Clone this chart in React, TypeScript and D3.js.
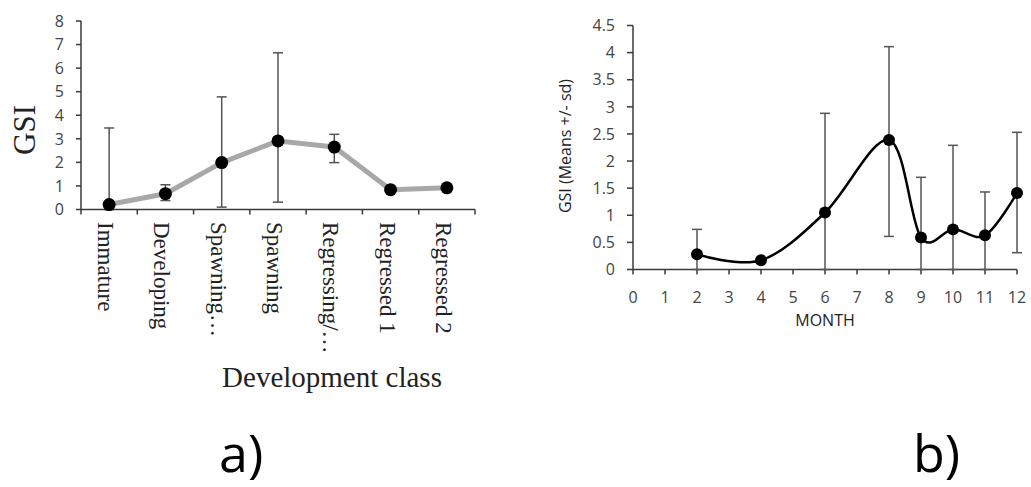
import React from 'react';
import * as d3 from 'd3';

// panel a) GSI by development class
const classes = ['Immature', 'Developing', 'Spawning…', 'Spawning', 'Regressing/…', 'Regressed 1', 'Regressed 2'];
const classMeans = [0.21, 0.67, 1.99, 2.91, 2.65, 0.84, 0.92];
const classUpper = [3.46, 1.05, 4.78, 6.65, 3.19, null, null];
const classLower = [0, 0.38, 0.1, 0.31, 1.99, null, null];
const classYTicks = [0, 1, 2, 3, 4, 5, 6, 7, 8];

// panel b) GSI by month
const months = [2, 4, 6, 8, 9, 10, 11, 12];
const monthMeans = [0.28, 0.17, 1.05, 2.39, 0.59, 0.74, 0.63, 1.41];
const monthUpper = [0.74, null, 2.88, 4.11, 1.7, 2.29, 1.43, 2.53];
const monthLower = [0, null, 0, 0.61, 0, 0, 0, 0.31];
const monthTicks = [0, 1, 2, 3, 4, 5, 6, 7, 8, 9, 10, 11, 12];
const monthYTicks = [0, 0.5, 1, 1.5, 2, 2.5, 3, 3.5, 4, 4.5];

const SANS = '"Open Sans", sans-serif';
const SERIF = '"Liberation Serif", "Times New Roman", serif';
const AXIS = '#3a3a3a';
const ERR = '#555';

const PanelA: React.FC = () => {
  const x = d3.scaleBand<string>().domain(classes).range([81, 475]);
  const y = d3.scaleLinear().domain([0, 8]).range([209.5, 21]);
  const cx = (c: string) => (x(c) as number) + x.bandwidth() / 2;
  const pts = classes.map((c, i) => [cx(c), y(classMeans[i])] as [number, number]);
  const line = d3.line();
  const boundaries = d3.range(classes.length + 1).map(i => x.range()[0] + x.step() * i);

  return (
    <g>
      {/* y axis */}
      <line x1={x.range()[0]} x2={x.range()[0]} y1={y(0)} y2={y(8)} stroke={AXIS} strokeWidth={1.5} />
      {classYTicks.map(t => (
        <g key={t}>
          <line x1={x.range()[0] - 5} x2={x.range()[0]} y1={y(t)} y2={y(t)} stroke={AXIS} strokeWidth={1.5} />
          <text x={64} y={y(t)} dy="0.36em" textAnchor="end" fontFamily={SANS} fontSize={16} fill="#444">{t}</text>
        </g>
      ))}
      {/* x axis */}
      <line x1={x.range()[0]} x2={x.range()[1]} y1={y(0)} y2={y(0)} stroke={AXIS} strokeWidth={1.5} />
      {boundaries.map((b, i) => (
        <line key={i} x1={b} x2={b} y1={y(0)} y2={y(0) + 5} stroke={AXIS} strokeWidth={1.5} />
      ))}
      {classes.map(c => (
        <text key={c} transform={`translate(${cx(c) - 11},222) rotate(90)`} fontFamily={SERIF} fontSize={23} fill="#222">{c}</text>
      ))}
      {/* error bars */}
      {classes.map((c, i) => classUpper[i] == null ? null : (
        <g key={c} stroke={ERR} strokeWidth={1.5}>
          <line x1={cx(c)} x2={cx(c)} y1={y(classUpper[i] as number)} y2={y(classLower[i] as number)} />
          <line x1={cx(c) - 5} x2={cx(c) + 5} y1={y(classUpper[i] as number)} y2={y(classUpper[i] as number)} />
          <line x1={cx(c) - 5} x2={cx(c) + 5} y1={y(classLower[i] as number)} y2={y(classLower[i] as number)} />
        </g>
      ))}
      <path d={line(pts) as string} fill="none" stroke="#a8a8a8" strokeWidth={5} strokeLinejoin="round" />
      {pts.map((p, i) => <circle key={i} cx={p[0]} cy={p[1]} r={6.5} fill="#000" />)}
      <text transform="translate(35,130) rotate(-90)" textAnchor="middle" fontFamily={SERIF} fontSize={31} fill="#222">GSI</text>
      <text x={332} y={387} textAnchor="middle" fontFamily={SERIF} fontSize={29} fill="#222">Development class</text>
      <text x={219} y={472} fontFamily={SANS} fontSize={52} fill="#000">a)</text>
    </g>
  );
};

const PanelB: React.FC = () => {
  const x = d3.scaleLinear().domain([0, 12]).range([633, 1017]);
  const y = d3.scaleLinear().domain([0, 4.5]).range([269.5, 25.5]);
  const pts = months.map((m, i) => [x(m), y(monthMeans[i])] as [number, number]);
  const line = d3.line().curve(d3.curveCardinal.tension(0));

  return (
    <g>
      <line x1={x(0)} x2={x(0)} y1={y(0)} y2={y(4.5)} stroke={AXIS} strokeWidth={1.5} />
      {monthYTicks.map(t => (
        <g key={t}>
          <line x1={x(0) - 6} x2={x(0)} y1={y(t)} y2={y(t)} stroke={AXIS} strokeWidth={1.5} />
          <text x={615} y={y(t)} dy="0.36em" textAnchor="end" fontFamily={SANS} fontSize={16} fill="#444">{t}</text>
        </g>
      ))}
      <line x1={x(0)} x2={x(12)} y1={y(0)} y2={y(0)} stroke={AXIS} strokeWidth={1.5} />
      {monthTicks.map(t => (
        <g key={t}>
          <line x1={x(t)} x2={x(t)} y1={y(0)} y2={y(0) + 5} stroke={AXIS} strokeWidth={1.5} />
          <text x={x(t)} y={297} dy="0.36em" textAnchor="middle" fontFamily={SANS} fontSize={16} fill="#444">{t}</text>
        </g>
      ))}
      {months.map((m, i) => monthUpper[i] == null ? null : (
        <g key={m} stroke={ERR} strokeWidth={1.5}>
          <line x1={x(m)} x2={x(m)} y1={y(monthUpper[i] as number)} y2={y(monthLower[i] as number)} />
          <line x1={x(m) - 5} x2={x(m) + 5} y1={y(monthUpper[i] as number)} y2={y(monthUpper[i] as number)} />
          <line x1={x(m) - 5} x2={x(m) + 5} y1={y(monthLower[i] as number)} y2={y(monthLower[i] as number)} />
        </g>
      ))}
      <path d={line(pts) as string} fill="none" stroke="#000" strokeWidth={2.5} />
      {pts.map((p, i) => <circle key={i} cx={p[0]} cy={p[1]} r={6} fill="#000" />)}
      <text transform="translate(571,146) rotate(-90)" textAnchor="middle" fontFamily={SANS} fontSize={16} fill="#222">GSI (Means +/- sd)</text>
      <text x={825} y={326} textAnchor="middle" fontFamily={SANS} fontSize={16} fill="#222">MONTH</text>
      <text x={913} y={472} fontFamily={SANS} fontSize={52} fill="#000">b)</text>
    </g>
  );
};

const App: React.FC = () => (
  <svg width={1031} height={487} style={{ position: 'absolute', left: 0, top: 0, background: '#fff' }}>
    <rect width={1031} height={487} fill="#fff" />
    <PanelA />
    <PanelB />
  </svg>
);

export default App;
